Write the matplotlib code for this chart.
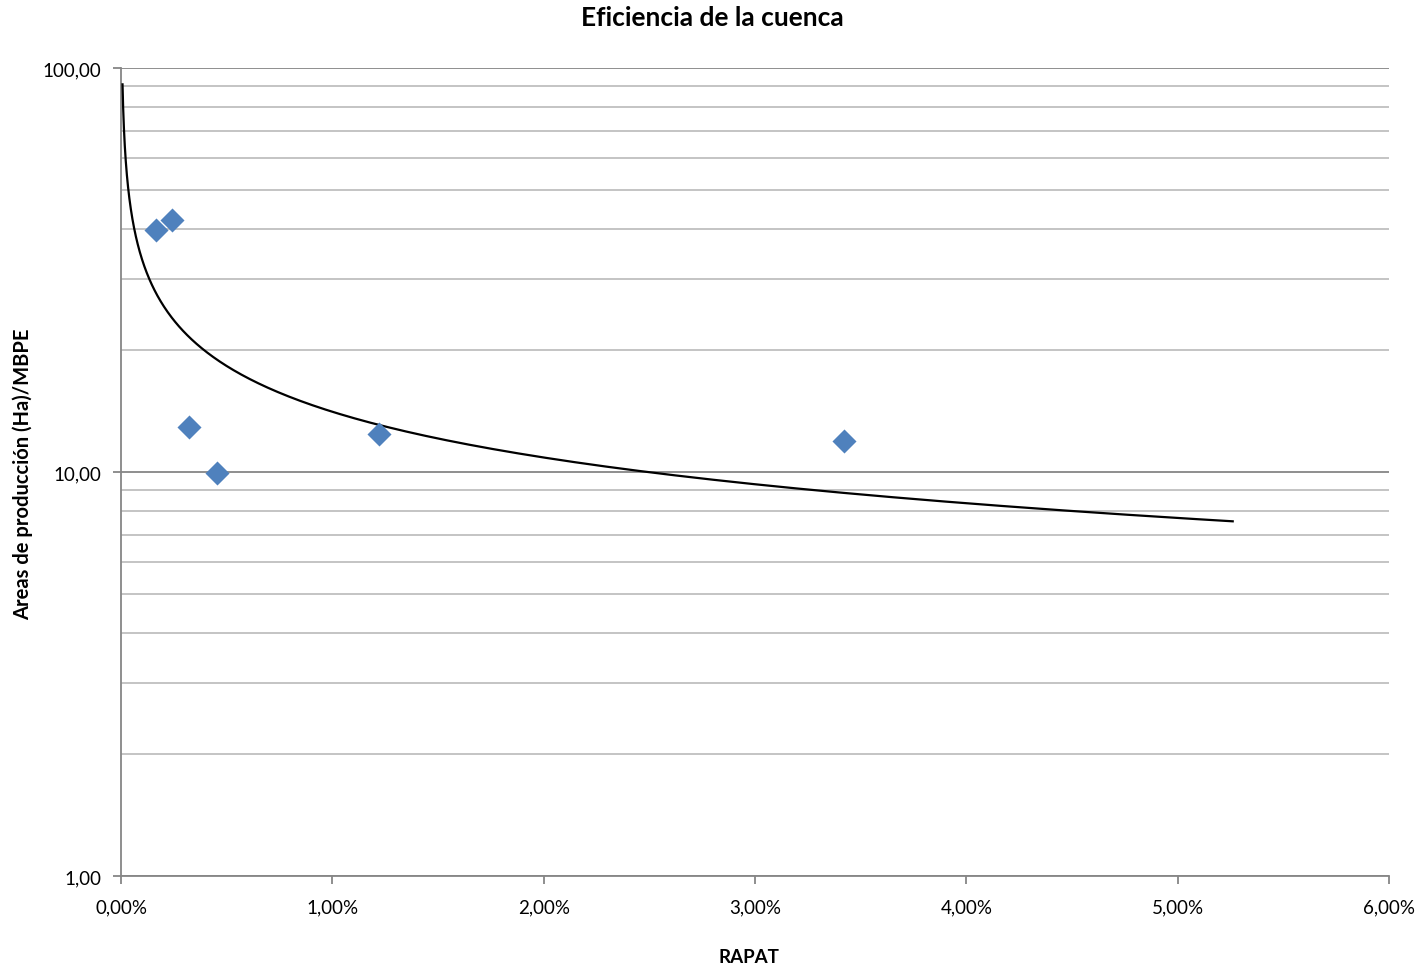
import numpy as np
import matplotlib.pyplot as plt
from matplotlib.ticker import FixedLocator, NullFormatter, FuncFormatter

# RAPAT (fraction) vs production area per MBPE
rapat = [0.00166, 0.00241, 0.00322, 0.00454, 0.01221, 0.0342]
areas = [39.7, 42.1, 12.9, 9.95, 12.4, 11.9]

# power trendline range (Excel style, extended backward/forward)
trend_start = 0.00007
trend_end = 0.0526

plt.rcParams['font.family'] = ['Lato', 'DejaVu Sans']

fig = plt.figure(figsize=(14.24, 9.7), dpi=100)
ax = fig.add_axes([0.085, 0.0959, 0.8905, 0.833])

# power fit y = a * x^b in log space
b, loga = np.polyfit(np.log(rapat), np.log(areas), 1)
xt = np.geomspace(trend_start, trend_end, 400)
ax.plot(xt, np.exp(loga) * xt ** b, color='black', lw=1.6, zorder=3)

ax.scatter(rapat, areas, marker='D', s=150, color='#4F81BD', zorder=4, linewidths=0)

ax.set_yscale('log')
ax.set_ylim(1, 100)
ax.set_xlim(0, 0.06)

ax.yaxis.set_major_locator(FixedLocator([1, 10, 100]))
ax.yaxis.set_minor_locator(FixedLocator([m * d for d in (1, 10) for m in range(2, 10)]))
ax.yaxis.set_minor_formatter(NullFormatter())
ax.yaxis.set_major_formatter(FuncFormatter(lambda v, p: f'{v:.2f}'.replace('.', ',')))
ax.set_xticks(np.arange(0, 0.061, 0.01))
ax.xaxis.set_major_formatter(FuncFormatter(lambda v, p: f'{v*100:.2f}%'.replace('.', ',')))

ax.grid(True, which='major', axis='y', color='#868686', lw=1.3)
ax.grid(True, which='minor', axis='y', color='#bfbfbf', lw=1.3)
ax.set_axisbelow(True)

for s in ('top', 'right'):
    ax.spines[s].set_visible(False)
for s in ('left', 'bottom'):
    ax.spines[s].set_color('#868686')
    ax.spines[s].set_linewidth(1.3)
ax.tick_params(axis='both', which='major', direction='out', length=6, width=1.3,
               color='#868686', labelsize=13.5)
ax.tick_params(axis='x', pad=10)
ax.tick_params(axis='y', pad=8)
ax.tick_params(axis='y', which='minor', length=0)

fig.text(0.5, 0.981, 'Eficiencia de la cuenca', fontsize=19, fontweight='bold',
         ha='center', va='center')
fig.text(0.526, 0.013, 'RAPAT', fontsize=13.5, fontweight='bold', ha='center', va='center')
fig.text(0.016, 0.511, 'Areas de producción (Ha)/MBPE', fontsize=14.5, fontweight='bold',
         ha='center', va='center', rotation=90)

fig.savefig('out.png', dpi=100)
